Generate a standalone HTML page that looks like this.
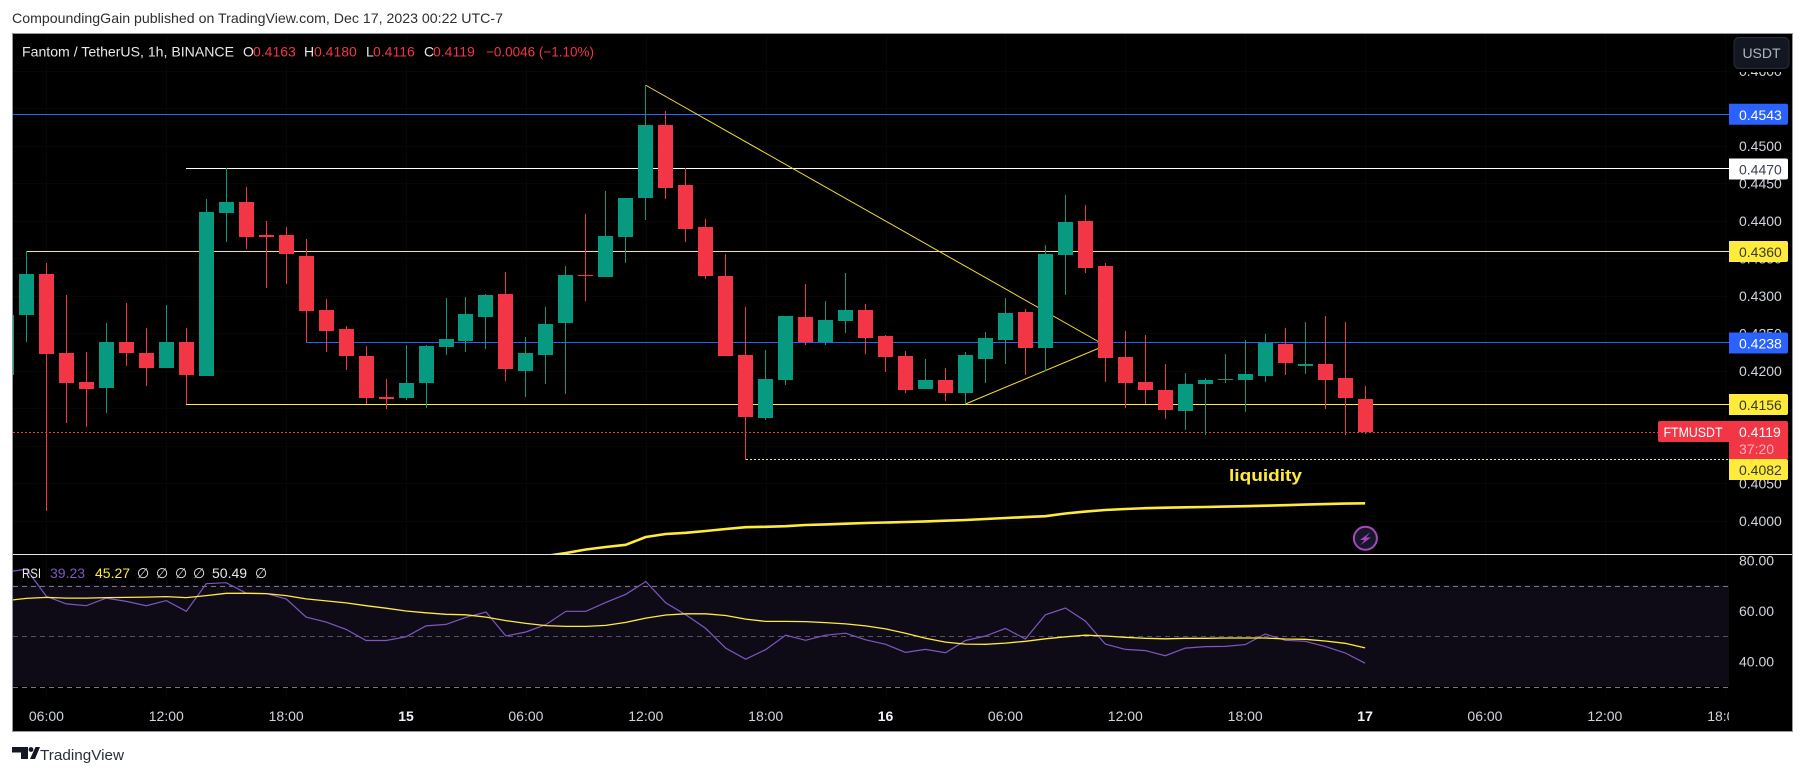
<!DOCTYPE html>
<html lang="en">
<head>
<meta charset="utf-8">
<title>FTMUSDT 1h chart</title>
<style>
html,body{margin:0;padding:0;background:#fff;width:1805px;height:775px;overflow:hidden}
svg{display:block}
text{font-family:"Liberation Sans",sans-serif;font-size:14px}
</style>
</head>
<body>
<svg id="chart" xmlns="http://www.w3.org/2000/svg" width="1805" height="775" viewBox="0 0 1805 775">
  <defs>
    <clipPath id="main-clip"><rect x="13" y="34" width="1716" height="520"/></clipPath>
    <clipPath id="rsi-clip"><rect x="13" y="555" width="1716" height="143"/></clipPath>
    <clipPath id="time-clip"><rect x="13" y="700" width="1716" height="31"/></clipPath>
  </defs>
  <rect width="1805" height="775" fill="#ffffff"/>
  <text x="12" y="23" fill="#2e2e2e" textLength="491" lengthAdjust="spacingAndGlyphs">CompoundingGain published on TradingView.com, Dec 17, 2023 00:22 UTC-7</text>
  <rect x="12.5" y="33.5" width="1780" height="698" fill="#000000" stroke="#9598a1" stroke-width="1"/>
  <g id="grid"></g>
  <rect x="13" y="585" width="1716" height="101" fill="#0e0b17"/>
  <g id="rsi-layer" clip-path="url(#rsi-clip)"></g>
  <g id="draw-layer" clip-path="url(#main-clip)"></g>
  <g id="candle-layer" clip-path="url(#main-clip)"></g>
  <g id="ma-layer" clip-path="url(#main-clip)"></g>
  <rect x="13" y="554" width="1779" height="1" fill="#e6e6e6"/>
  <g id="axis-layer"></g>
  <g id="time-layer" clip-path="url(#time-clip)"></g>
  <g id="label-layer"></g>

  <rect x="1730" y="34" width="62" height="38" fill="#000000"/>
  <g>
    <rect x="1734" y="37.5" width="55" height="31" rx="5" fill="#131722" stroke="#2a2e39"/>
    <text x="1761.5" y="58" text-anchor="middle" fill="#b2b5be">USDT</text>
  </g>

  <g>
    <text x="22" y="56.5" fill="#e8e8ea" textLength="212" lengthAdjust="spacingAndGlyphs">Fantom / TetherUS, 1h, BINANCE</text>
    <text x="243" y="56.5" fill="#e8e8ea">O</text>
    <text x="253" y="56.5" fill="#f23645">0.4163</text>
    <text x="304" y="56.5" fill="#e8e8ea">H</text>
    <text x="314" y="56.5" fill="#f23645">0.4180</text>
    <text x="366" y="56.5" fill="#e8e8ea">L</text>
    <text x="373" y="56.5" fill="#f23645">0.4116</text>
    <text x="424" y="56.5" fill="#e8e8ea">C</text>
    <text x="433" y="56.5" fill="#f23645">0.4119</text>
    <text x="486" y="56.5" fill="#f23645" textLength="108" lengthAdjust="spacingAndGlyphs">−0.0046 (−1.10%)</text>
  </g>

  <g>
    <text x="22" y="578" fill="#e8e8ea" textLength="19" lengthAdjust="spacingAndGlyphs">RSI</text>
    <text x="50" y="578" fill="#7e57c2">39.23</text>
    <text x="95" y="578" fill="#ffeb3b">45.27</text>
    <text x="137" y="578" fill="#e8e8ea">∅</text>
    <text x="156" y="578" fill="#e8e8ea">∅</text>
    <text x="175" y="578" fill="#e8e8ea">∅</text>
    <text x="193" y="578" fill="#e8e8ea">∅</text>
    <text x="212" y="578" fill="#e8e8ea">50.49</text>
    <text x="255" y="578" fill="#e8e8ea">∅</text>
  </g>

  <text x="1229" y="481" fill="#ffeb3b" style="font-size:17px;font-weight:bold" textLength="73" lengthAdjust="spacingAndGlyphs">liquidity</text>

  <g>
    <circle cx="1365.4" cy="538.3" r="11.5" fill="#15172a" stroke="#ab47bc" stroke-width="2"/>
    <path d="M1370.5 532 L1360 540 L1364.5 540 L1360.5 545 L1371 537.5 L1366 537.5 Z" fill="#ab47bc"/>
  </g>

  <g>
    <path d="M12 747 H28 V759 H21 V752.5 H12 Z M35.5 747 H40 L35 759 H30 Z" fill="#131722"/>
    <circle cx="31" cy="749.5" r="2.4" fill="#131722"/>
    <text x="40" y="760" fill="#2a2e39" style="font-size:15px" textLength="84" lengthAdjust="spacingAndGlyphs">TradingView</text>
  </g>
</svg>
<script>
// Candle values, oldest to newest (first candle is mostly off the left edge).
var opens = [
0.4195,0.4275,0.4329,0.4224,0.4185,0.4177,0.4239,0.4224,0.4204,0.4239,
0.4193,0.4411,0.4425,0.4381,0.4381,0.4353,0.4281,0.4256,0.4220,0.4165,
0.4164,0.4184,0.4232,0.4240,0.4272,0.4303,0.4200,0.4221,0.4264,0.4328,
0.4325,0.4379,0.4431,0.4528,0.4448,0.4392,0.4327,0.4221,0.4137,0.4188,
0.4272,0.4239,0.4267,0.4281,0.4247,0.4220,0.4176,0.4188,0.4171,0.4216,
0.4241,0.4279,0.4231,0.4355,0.4400,0.4340,0.4219,0.4185,0.4175,0.4147,
0.4183,0.4188,0.4188,0.4193,0.4236,0.4207,0.4209,0.4191,0.4163];
var closes = [
0.4275,0.4329,0.4223,0.4184,0.4176,0.4239,0.4224,0.4204,0.4239,0.4195,
0.4412,0.4425,0.4379,0.4379,0.4356,0.4280,0.4253,0.4220,0.4164,0.4163,
0.4184,0.4233,0.4243,0.4276,0.4301,0.4203,0.4224,0.4263,0.4328,0.4327,
0.4380,0.4431,0.4528,0.4444,0.4389,0.4327,0.4220,0.4139,0.4189,0.4273,
0.4239,0.4268,0.4281,0.4244,0.4219,0.4175,0.4188,0.4171,0.4221,0.4244,
0.4277,0.4231,0.4356,0.4399,0.4337,0.4217,0.4184,0.4175,0.4148,0.4183,
0.4188,0.4189,0.4196,0.4237,0.4211,0.4209,0.4188,0.4164,0.4119];
var highs = [
0.4275,0.4360,0.4344,0.4301,0.4225,0.4264,0.4291,0.4257,0.4288,0.4257,
0.4429,0.4471,0.4445,0.4400,0.4392,0.4376,0.4296,0.4260,0.4233,0.4189,
0.4235,0.4235,0.4297,0.4299,0.4303,0.4332,0.4245,0.4285,0.4340,0.4409,
0.4440,0.4431,0.4581,0.4547,0.4471,0.4403,0.4356,0.4285,0.4228,0.4273,
0.4316,0.4293,0.4331,0.4289,0.4248,0.4227,0.4216,0.4204,0.4225,0.4252,
0.4297,0.4283,0.4368,0.4435,0.4421,0.4344,0.4253,0.4248,0.4209,0.4197,
0.4191,0.4223,0.4241,0.4249,0.4257,0.4265,0.4273,0.4265,0.4180];
var lows = [
0.4195,0.4239,0.4013,0.4131,0.4125,0.4144,0.4207,0.4180,0.4204,0.4156,
0.4193,0.4372,0.4363,0.4311,0.4316,0.4239,0.4225,0.4201,0.4156,0.4149,
0.4161,0.4151,0.4221,0.4225,0.4229,0.4187,0.4165,0.4183,0.4169,0.4293,
0.4325,0.4344,0.4401,0.4429,0.4372,0.4323,0.4220,0.4081,0.4135,0.4181,
0.4235,0.4235,0.4251,0.4223,0.4199,0.4171,0.4176,0.4160,0.4156,0.4184,
0.4209,0.4195,0.4200,0.4301,0.4331,0.4185,0.4151,0.4156,0.4136,0.4121,
0.4115,0.4184,0.4145,0.4185,0.4195,0.4196,0.4149,0.4115,0.4116];

// Slow moving average: only its tail rises into the visible price range.
var maFirstCandle = 27;
var maValues = [
0.39533,0.39573,0.39620,0.39653,0.39683,0.39787,0.39827,0.39843,0.39867,0.39893,
0.39917,0.39923,0.39931,0.39947,0.39955,0.39964,0.39973,0.39980,0.39987,0.39995,
0.40004,0.40013,0.40027,0.40040,0.40052,0.40064,0.40100,0.40125,0.40147,0.40160,
0.40171,0.40177,0.40183,0.40187,0.40192,0.40197,0.40204,0.40211,0.40219,0.40225,
0.40232,0.40236];

var rsiValues = [
75.3,76.5,65.7,62.7,62.0,65.0,63.7,62.0,64.0,59.8,
70.7,71.1,67.0,66.8,64.7,57.5,55.5,52.6,48.2,48.2,
49.7,54.0,54.6,57.4,59.5,50.0,51.6,54.5,59.8,59.8,
63.3,66.5,71.6,63.1,58.4,53.0,45.2,40.8,44.6,50.3,
48.3,50.3,51.1,48.5,46.7,43.5,44.7,43.4,48.2,50.0,
53.0,48.8,58.4,61.1,55.9,46.8,44.7,44.2,42.2,45.2,
45.8,45.9,46.6,50.8,48.3,47.9,45.9,43.3,39.23];
var rsiMaValues = [
64.0,64.9,65.3,65.0,65.0,65.2,65.3,65.4,65.6,65.2,
66.0,66.9,66.9,66.8,66.0,64.7,63.9,63.1,62.0,61.0,
59.9,59.2,58.6,58.4,57.5,56.1,55.0,54.1,53.8,53.8,
54.2,55.4,57.1,58.3,58.8,58.8,58.1,56.7,55.8,55.8,
55.7,55.3,54.8,54.0,52.8,51.1,49.1,47.6,46.8,46.7,
47.2,47.9,48.9,49.7,50.3,50.0,49.5,49.1,48.9,49.1,
49.1,49.2,49.2,49.2,48.8,48.7,48.0,47.1,45.27];

var priceTicks = [0.46,0.455,0.45,0.445,0.44,0.435,0.43,0.425,0.42,0.415,0.41,0.405,0.40];
var rsiTicks = [80,60,40];
var rsiBands = [70,50,30];
var timeLabels = ['06:00','12:00','18:00','15','06:00','12:00','18:00','16','06:00','12:00','18:00','17','06:00','12:00','18:00'];
var dayLabels = ['15','16','17'];

// Drawn levels and trend lines, as prices and candle numbers.
var blueLevelTop = 0.4543;
var blueLevelMid = 0.4238;
var whiteLevel = 0.4470;
var yellowLevelHigh = 0.4360;
var yellowLevelLow = 0.4156;
var liquidityLevel = 0.4082;
var lastPrice = 0.4119;
var whiteLevelStart = 9;
var blueLevelMidStart = 15;
var yellowLevelHighStart = 1;
var yellowLevelLowStart = 9;
var liquidityLevelStart = 37;
var trendDownStart = [32, 0.4581];
var trendUpStart = [48, 0.4156];
var trendApex = [55, 0.4234];

var NS = 'http://www.w3.org/2000/svg';
var UP = '#089981';
var DOWN = '#f23645';
var YELLOW = '#ffeb3b';
var BLUE = '#2962ff';
var PANE_LEFT = 13;
var PANE_RIGHT = 1729;

function xScale(k){ return 6.44 + 19.98 * k; }
function yScale(p){ return 371 + (0.42 - p) * 7500; }
function rsiScale(v){ return 636 - (v - 50) * 2.525; }
function row(y){ return Math.round(y - 0.25); }
function tickX(n){ return xScale(2 + 6 * n); }

function mk(tag, attrs, parent){
  var el = document.createElementNS(NS, tag);
  for (var key in attrs) { el.setAttribute(key, attrs[key]); }
  parent.appendChild(el);
  return el;
}

var grid = document.getElementById('grid');
var rsiLayer = document.getElementById('rsi-layer');
var drawLayer = document.getElementById('draw-layer');
var candleLayer = document.getElementById('candle-layer');
var maLayer = document.getElementById('ma-layer');
var axisLayer = document.getElementById('axis-layer');
var timeLayer = document.getElementById('time-layer');
var labelLayer = document.getElementById('label-layer');

// Grid lines
timeLabels.forEach(function(label, n){
  var line = mk('rect', {x: Math.round(tickX(n)), y: 34, width: 1, height: 664, fill: '#070707'}, grid);
  
  
});
priceTicks.forEach(function(p){
  var line = mk('rect', {x: PANE_LEFT, y: row(yScale(p)), width: PANE_RIGHT - PANE_LEFT, height: 1, fill: '#070707'}, grid);
  
  
});

// Horizontal drawings
function level(price, startK, color, dash, name){
  var y = row(yScale(price)) + 0.5;
  var attrs = {x1: Math.round(xScale(startK)), x2: PANE_RIGHT, y1: y, y2: y, stroke: color, 'stroke-width': 1};
  if (dash) { attrs['stroke-dasharray'] = dash; }
  var line = mk('line', attrs, drawLayer);
  
  
}
level(blueLevelTop, 0, BLUE, null, 'blue-level-top');
level(blueLevelMid, blueLevelMidStart, BLUE, null, 'blue-level-mid');
level(whiteLevel, whiteLevelStart, '#ffffff', null, 'white-level');
level(yellowLevelHigh, yellowLevelHighStart, YELLOW, null, 'yellow-level-high');
level(yellowLevelLow, yellowLevelLowStart, YELLOW, null, 'yellow-level-low');
level(liquidityLevel, liquidityLevelStart, YELLOW, '2 2', 'liquidity-level');

// Trend lines
var trendDown = mk('line', {x1: xScale(trendDownStart[0]), y1: yScale(trendDownStart[1]), x2: xScale(trendApex[0]), y2: yScale(trendApex[1]), stroke: '#f2dc35', 'stroke-width': 1}, drawLayer);


var trendUp = mk('line', {x1: xScale(trendUpStart[0]), y1: yScale(trendUpStart[1]), x2: xScale(trendApex[0]), y2: yScale(trendApex[1]), stroke: '#f2dc35', 'stroke-width': 1}, drawLayer);



// Last-price dotted line
var lastY = row(yScale(lastPrice)) + 0.5;
var lastLine = mk('line', {x1: PANE_LEFT, x2: 1658, y1: lastY, y2: lastY, stroke: DOWN, 'stroke-width': 1, 'stroke-dasharray': '2 2'}, document.getElementById('chart'));


candleLayer.parentNode.insertBefore(lastLine, candleLayer);

// Candles
opens.forEach(function(open, k){
  var color = closes[k] >= open ? UP : DOWN;
  var cx = xScale(k);
  var g = mk('g', {fill: color, 'shape-rendering': 'crispEdges'}, candleLayer);
  
  
  var wickTop = Math.round(yScale(highs[k]));
  var wickBottom = Math.round(yScale(lows[k]));
  var wick = mk('rect', {x: Math.round(cx - 0.5), y: wickTop, width: 1, height: Math.max(wickBottom - wickTop, 1)}, g);
  
  
  var top = Math.round(yScale(Math.max(open, closes[k])));
  var bottom = Math.round(yScale(Math.min(open, closes[k])));
  var body = mk('rect', {x: Math.round(cx - 7.5), y: top, width: 15, height: Math.max(bottom - top, 1)}, g);
  
  
});

// Moving average
var maPoints = maValues.map(function(v, i){
  return xScale(maFirstCandle + i).toFixed(1) + ',' + yScale(v).toFixed(1);
}).join(' ');
var maLine = mk('polyline', {points: maPoints, fill: 'none', stroke: YELLOW, 'stroke-width': 2.6, 'stroke-linejoin': 'round'}, maLayer);



// RSI pane
rsiBands.forEach(function(v){
  var y = Math.round(rsiScale(v)) + 0.5;
  var band = mk('line', {x1: PANE_LEFT, x2: PANE_RIGHT, y1: y, y2: y, stroke: v === 50 ? '#55525f' : '#787885', 'stroke-width': 1, 'stroke-dasharray': '5 4'}, rsiLayer);
  
  
});
var rsiPoints = rsiValues.map(function(v, k){
  return xScale(k).toFixed(1) + ',' + rsiScale(v).toFixed(1);
}).join(' ');
var rsiLine = mk('polyline', {points: rsiPoints, fill: 'none', stroke: '#7e57c2', 'stroke-width': 1.2}, rsiLayer);


var rsiMaPoints = rsiMaValues.map(function(v, k){
  return xScale(k).toFixed(1) + ',' + rsiScale(v).toFixed(1);
}).join(' ');
var rsiMaLine = mk('polyline', {points: rsiMaPoints, fill: 'none', stroke: YELLOW, 'stroke-width': 1.3}, rsiLayer);



// Axis labels
priceTicks.forEach(function(p){
  var t = mk('text', {x: 1739, y: yScale(p) + 5, fill: '#d1d4dc'}, axisLayer);
  t.textContent = p.toFixed(4);
  
  
});
rsiTicks.forEach(function(v){
  var t = mk('text', {x: 1739, y: rsiScale(v) + 5, fill: '#d1d4dc'}, axisLayer);
  t.textContent = v.toFixed(2);
  
  
});
timeLabels.forEach(function(label, n){
  var isDay = dayLabels.indexOf(label) >= 0;
  var attrs = {x: tickX(n), y: 721, fill: '#d1d4dc', 'text-anchor': 'middle'};
  if (isDay) { attrs['font-weight'] = 'bold'; attrs.fill = '#f0f3fa'; }
  var t = mk('text', attrs, timeLayer);
  t.textContent = label;
  
  
});

// Price labels on the axis; shift moves a tag that would collide with another one.
function priceTag(price, bg, fg, name, shift){
  var y = yScale(price) + 0.5 + shift;
  var box = mk('path', {d: 'M1729 ' + (y - 10.5) + ' H1786 Q1788 ' + (y - 10.5) + ' 1788 ' + (y - 8.5) + ' V' + (y + 8.5) + ' Q1788 ' + (y + 10.5) + ' 1786 ' + (y + 10.5) + ' H1729 Z', fill: bg}, labelLayer);
  
  
  var t = mk('text', {x: 1739, y: y + 5.5, fill: fg}, labelLayer);
  t.textContent = price.toFixed(4);
  
  
}
priceTag(blueLevelTop, BLUE, '#ffffff', 'blue-top-price-label', 0);
priceTag(whiteLevel, '#ffffff', '#3a3e4a', 'white-price-label', 0);
priceTag(yellowLevelHigh, YELLOW, '#3a3a20', 'yellow-high-price-label', 0);
priceTag(blueLevelMid, BLUE, '#ffffff', 'blue-mid-price-label', 0);
priceTag(yellowLevelLow, YELLOW, '#3a3a20', 'yellow-low-price-label', 0);

var symbolBox = mk('path', {d: 'M1660 421 H1786 Q1788 421 1788 423 V459 H1729 V442 H1660 Q1658 442 1658 440 V423 Q1658 421 1660 421 Z', fill: DOWN}, labelLayer);


var symbolText = mk('text', {x: 1663.5, y: 437, fill: '#ffffff', textLength: 59, lengthAdjust: 'spacingAndGlyphs'}, labelLayer);
symbolText.textContent = 'FTMUSDT';


var lastText = mk('text', {x: 1739, y: 437, fill: '#ffffff'}, labelLayer);
lastText.textContent = lastPrice.toFixed(4);


var countdown = mk('text', {x: 1739, y: 454, fill: '#fbb4ba'}, labelLayer);
countdown.textContent = '37:20';



priceTag(liquidityLevel, YELLOW, '#3a3a20', 'liquidity-price-label', 9.5);
</script>
</body>
</html>
